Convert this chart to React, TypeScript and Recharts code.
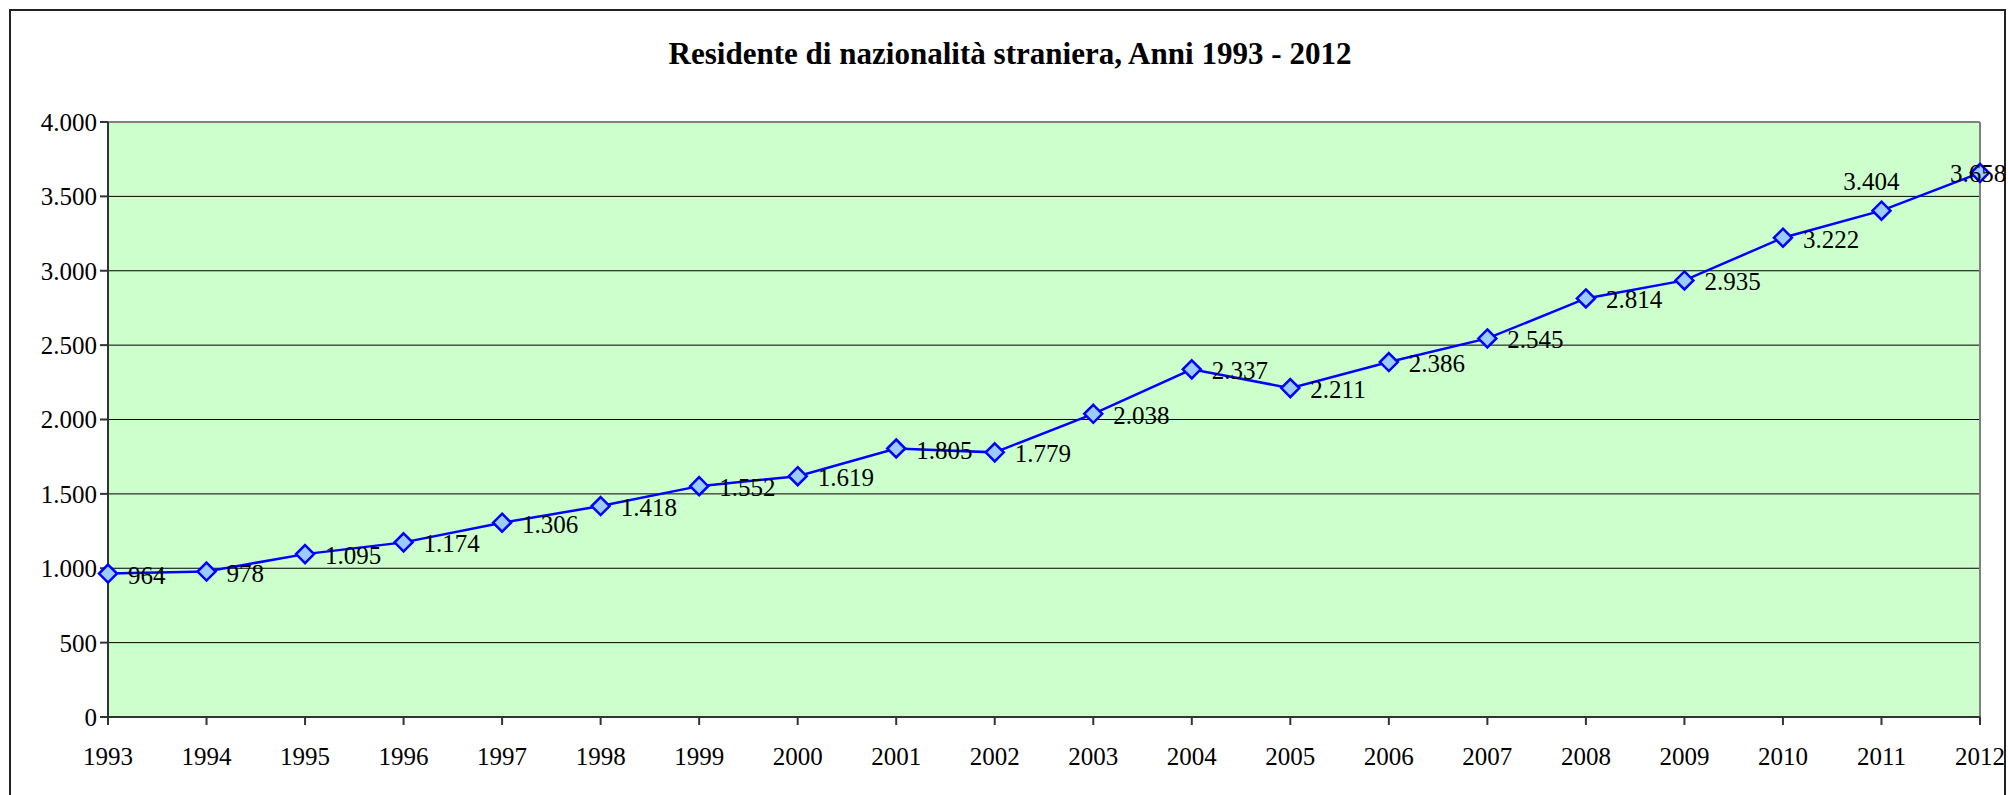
import React from "react";
import {
  LineChart,
  Line,
  XAxis,
  YAxis,
  CartesianGrid,
  ReferenceLine,
  LabelList,
} from "recharts";

const years = [
  "1993", "1994", "1995", "1996", "1997", "1998", "1999", "2000", "2001", "2002",
  "2003", "2004", "2005", "2006", "2007", "2008", "2009", "2010", "2011", "2012",
];
const residents = [
  964, 978, 1095, 1174, 1306, 1418, 1552, 1619, 1805, 1779,
  2038, 2337, 2211, 2386, 2545, 2814, 2935, 3222, 3404, 3658,
];
const yTicks = [0, 500, 1000, 1500, 2000, 2500, 3000, 3500, 4000];
const title = "Residente di nazionalità straniera, Anni 1993 - 2012";

const data = years.map((y, i) => ({ year: y, value: residents[i] }));

const FONT = "'Liberation Serif', 'Times New Roman', serif";
const FS = 25;

function fmt(v: number): string {
  const s = String(Math.round(v));
  return s.replace(/\B(?=(\d{3})+(?!\d))/g, ".");
}

const Diamond = (props: any) => {
  const { cx, cy } = props;
  if (cx == null || cy == null) return null;
  const r = 9;
  return (
    <polygon
      points={`${cx},${cy - r} ${cx + r},${cy} ${cx},${cy + r} ${cx - r},${cy}`}
      fill="#99CCFF"
      stroke="#0000FF"
      strokeWidth={2.5}
    />
  );
};

const renderLabel = (props: any) => {
  const { x, y, value, index } = props;
  let tx = x + 20;
  let ty = y + 10;
  let anchor: "start" | "middle" | "end" = "start";
  if (index === 18) {
    tx = x - 10;
    ty = y - 21;
    anchor = "middle";
  } else if (index === 19) {
    tx = x - 2;
    ty = y + 9;
    anchor = "middle";
  }
  return (
    <text
      x={tx}
      y={ty}
      textAnchor={anchor}
      fontFamily={FONT}
      fontSize={FS}
      fill="#000"
    >
      {fmt(value)}
    </text>
  );
};

export default function App() {
  return (
    <div
      style={{
        position: "absolute",
        left: 0,
        top: 0,
        width: 2008,
        height: 795,
        overflow: "hidden",
        background: "#fff",
      }}
    >
      <div
        style={{
          position: "absolute",
          left: 9,
          top: 9,
          width: 1993,
          height: 900,
          border: "2px solid #222",
          boxSizing: "content-box",
        }}
      />
      <svg
        width={2008}
        height={110}
        style={{ position: "absolute", left: 0, top: 0 }}
      >
        <text
          x={1010}
          y={64}
          textAnchor="middle"
          fontFamily={FONT}
          fontWeight="bold"
          fontSize={32}
          textLength={683}
          lengthAdjust="spacingAndGlyphs"
          fill="#000"
        >
          {title}
        </text>
      </svg>
      <div style={{ position: "absolute", left: 8, top: 8 }}>
        <LineChart
          width={2000}
          height={787}
          data={data}
          margin={{ top: 114, right: 28, bottom: 28, left: 0 }}
        >
          <CartesianGrid
            vertical={false}
            stroke="#000"
            strokeWidth={1}
            fill="#CCFFCC"
            fillOpacity={1}
          />
          <XAxis
            dataKey="year"
            type="category"
            ticks={years}
            interval={0}
            tickSize={8}
            tickMargin={22}
            height={50}
            stroke="#333"
            strokeWidth={2}
            tick={{ fontFamily: FONT, fontSize: FS, fill: "#000" }}
            tickLine={{ stroke: "#333", strokeWidth: 2 }}
          />
          <YAxis
            domain={[0, 4000]}
            ticks={yTicks}
            interval={0}
            width={100}
            tickSize={8}
            tickMargin={3}
            stroke="#333"
            strokeWidth={2}
            tickFormatter={(v: number) => fmt(v)}
            tick={{ fontFamily: FONT, fontSize: FS, fill: "#000" }}
            tickLine={{ stroke: "#333", strokeWidth: 2 }}
          />
          <ReferenceLine y={4000} stroke="#808080" strokeWidth={2} />
          <ReferenceLine x="2012" stroke="#808080" strokeWidth={2} />
          <Line
            type="linear"
            dataKey="value"
            stroke="#0000FF"
            strokeWidth={2.5}
            dot={<Diamond />}
            activeDot={false}
            isAnimationActive={false}
          >
            <LabelList dataKey="value" content={renderLabel} />
          </Line>
        </LineChart>
      </div>
    </div>
  );
}
